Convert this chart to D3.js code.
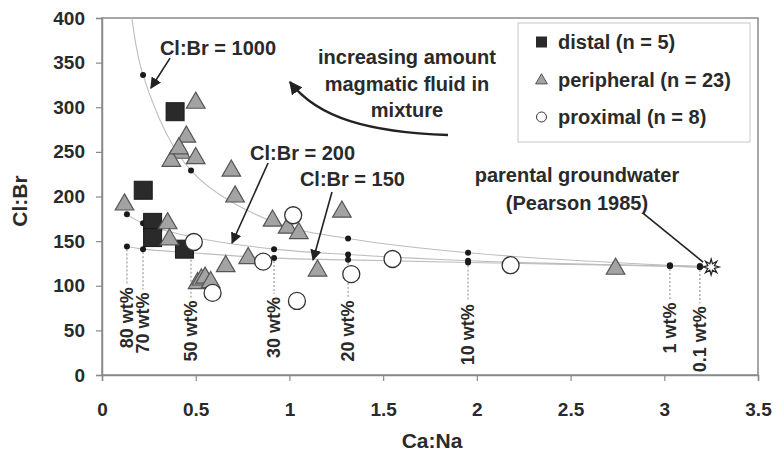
<!DOCTYPE html>
<html>
<head>
<meta charset="utf-8">
<script src="https://cdn.jsdelivr.net/npm/d3@7"></script>
<style>
  body { margin: 0; background: #fff; }
  svg text { font-family: "Liberation Sans", Arial, sans-serif; font-weight: bold; fill: #2a2a2a; }
</style>
</head>
<body>
<script>
// axis ticks
const xTicks = [0, 0.5, 1, 1.5, 2, 2.5, 3, 3.5];
const yTicks = [0, 50, 100, 150, 200, 250, 300, 350, 400];

// samples [Ca:Na, Cl:Br]
const distal = [[0.39, 295], [0.22, 207], [0.27, 171], [0.27, 154], [0.44, 141]];
const peripheral = [
  [0.50, 306], [0.45, 268], [0.42, 250], [0.37, 241], [0.50, 244], [0.41, 255],
  [0.69, 230], [0.71, 201], [0.12, 192], [0.35, 171], [0.36, 153], [0.66, 123],
  [0.78, 132], [0.51, 104], [0.53, 108], [0.55, 110], [0.58, 105], [0.91, 174],
  [0.99, 166], [1.05, 160], [1.15, 118], [1.28, 184], [2.74, 120]
];
const proximal = [[0.49, 149], [0.59, 92], [0.86, 127], [1.02, 179], [1.04, 83], [1.33, 113], [1.55, 130], [2.18, 123]];

// mixing curves, values at each wt% of magmatic fluid
const wtLabels = ['80 wt%', '70 wt%', '50 wt%', '30 wt%', '20 wt%', '10 wt%', '1 wt%', '0.1 wt%'];
const wtCaNa = [0.133, 0.219, 0.475, 0.918, 1.313, 1.953, 3.03, 3.19];
const curve1000 = [450, 336, 229, 171, 153, 137, 123, 122];
const curve200 = [180, 170, 155, 141, 135, 128, 122, 121];
const curve150 = [144, 141, 137, 131, 129, 126, 122, 121];
const wtLabelBase = [30, 24, 15, 19, 15, 11, 24, 3];

const groundwater = [3.25, 121];

const w = 773, h = 458;
const svg = d3.select('body').append('svg').attr('width', w).attr('height', h);

const x = d3.scaleLinear().domain([0, 3.5]).range([102, 758]);
const y = d3.scaleLinear().domain([0, 400]).range([375, 18]);

const defs = svg.append('defs');
defs.append('clipPath').attr('id', 'plot')
    .append('rect').attr('x', 102).attr('y', 18).attr('width', 656).attr('height', 357);
defs.append('marker').attr('id', 'head').attr('viewBox', '0 0 10 10')
    .attr('refX', 9).attr('refY', 5).attr('markerWidth', 7).attr('markerHeight', 7)
    .attr('markerUnits', 'strokeWidth').attr('orient', 'auto')
    .append('path').attr('d', 'M0,0 L10,5 L0,10 Z').attr('fill', '#222');
defs.append('marker').attr('id', 'headBig').attr('viewBox', '0 0 10 10')
    .attr('refX', 9).attr('refY', 5).attr('markerWidth', 5.5).attr('markerHeight', 5.5)
    .attr('markerUnits', 'strokeWidth').attr('orient', 'auto')
    .append('path').attr('d', 'M0,0 L10,5 L0,10 Z').attr('fill', '#222');

// frame
svg.append('rect').attr('x', 102).attr('y', 18).attr('width', 656).attr('height', 357)
   .attr('fill', 'none').attr('stroke', '#8a8a8a').attr('stroke-width', 1.5);

const xAxis = svg.append('g').attr('transform', 'translate(0,375)')
   .call(d3.axisBottom(x).tickValues(xTicks).tickFormat(d => String(d)).tickSize(6).tickPadding(22));
const yAxis = svg.append('g').attr('transform', 'translate(102,0)')
   .call(d3.axisLeft(y).tickValues(yTicks).tickSize(6).tickPadding(11));
[xAxis, yAxis].forEach(g => {
  g.select('.domain').attr('stroke', '#8a8a8a').attr('stroke-width', 1.5);
  g.selectAll('.tick line').attr('stroke', '#8a8a8a').attr('stroke-width', 1.2);
  g.selectAll('.tick text').style('font-size', '19px').attr('fill', '#2a2a2a');
});

svg.append('text').attr('x', 432).attr('y', 448).attr('text-anchor', 'middle')
   .style('font-size', '21px').text('Ca:Na');
svg.append('text').attr('transform', 'translate(27,201) rotate(-90)').attr('text-anchor', 'middle')
   .style('font-size', '21px').text('Cl:Br');

const plot = svg.append('g').attr('clip-path', 'url(#plot)');

// mixing curves
const line = d3.line().x(d => x(d[0])).y(d => y(d[1])).curve(d3.curveCatmullRom.alpha(0.5));
[curve1000, curve200, curve150].forEach(c => {
  const pts = c.map((v, i) => [wtCaNa[i], v]);
  pts.push(groundwater);
  plot.append('path').attr('d', line(pts)).attr('fill', 'none')
      .attr('stroke', '#bdbdbd').attr('stroke-width', 1.1);
});

// dashed drop lines + wt% labels
const labels = svg.append('g');
wtLabels.forEach((lab, i) => {
  const t = labels.append('text')
    .attr('transform', 'translate(' + x(wtCaNa[i]) + ',' + y(wtLabelBase[i]) + ') rotate(-90)')
    .attr('dy', '0.35em').style('font-size', '18px').text(lab);
  const len = t.node().getComputedTextLength();
  const low = Math.min(curve1000[i], curve200[i], curve150[i]);
  plot.append('line').attr('x1', x(wtCaNa[i])).attr('x2', x(wtCaNa[i]))
      .attr('y1', y(low) + 3).attr('y2', y(wtLabelBase[i]) - len - 3)
      .attr('stroke', '#888').attr('stroke-width', 1).attr('stroke-dasharray', '2,2');
});

// curve dots
[curve1000, curve200, curve150].forEach(c => {
  plot.selectAll(null).data(c.map((v, i) => [wtCaNa[i], v])).enter().append('circle')
      .attr('cx', d => x(d[0])).attr('cy', d => y(d[1])).attr('r', 3).attr('fill', '#1a1a1a');
});

// samples
const tri = d3.symbol().type(d3.symbolTriangle).size(150);
plot.selectAll('.sq').data(distal).enter().append('rect')
    .attr('x', d => x(d[0]) - 9).attr('y', d => y(d[1]) - 9).attr('width', 18).attr('height', 18)
    .attr('fill', '#2a2a2a').attr('stroke', '#1a1a1a').attr('stroke-width', 1);
plot.selectAll('.tr').data(peripheral).enter().append('path')
    .attr('d', tri).attr('transform', d => 'translate(' + x(d[0]) + ',' + (y(d[1]) + 1) + ')')
    .attr('fill', '#a3a3a3').attr('stroke', '#555').attr('stroke-width', 1.2);
plot.selectAll('.ci').data(proximal).enter().append('circle')
    .attr('cx', d => x(d[0])).attr('cy', d => y(d[1])).attr('r', 8.5)
    .attr('fill', '#fff').attr('stroke', '#333').attr('stroke-width', 1.3);

// groundwater star
const starPts = d3.range(16).map(i => [i * Math.PI / 8, i % 2 ? 3.5 : 8]);
svg.append('path').attr('d', d3.lineRadial().curve(d3.curveLinearClosed)(starPts))
   .attr('transform', 'translate(' + x(groundwater[0]) + ',' + y(groundwater[1]) + ')')
   .attr('fill', '#fff').attr('stroke', '#222').attr('stroke-width', 1.2);

// annotations (data coordinates)
const ann = svg.append('g');
const arrow = (a, b, head) => ann.append('line')
  .attr('x1', x(a[0])).attr('y1', y(a[1])).attr('x2', x(b[0])).attr('y2', y(b[1]))
  .attr('stroke', '#222').attr('stroke-width', 1.6).attr('marker-end', head ? 'url(#head)' : null);

ann.append('text').attr('x', x(0.309)).attr('y', y(358.5)).style('font-size', '20px').text('Cl:Br = 1000');
arrow([0.363, 355], [0.261, 321.6], true);
ann.append('text').attr('x', x(0.79)).attr('y', y(240.9)).style('font-size', '20px').text('Cl:Br = 200');
arrow([0.886, 237.5], [0.694, 147.9], true);
ann.append('text').attr('x', x(1.056)).attr('y', y(211.8)).style('font-size', '20px').text('Cl:Br = 150');
arrow([1.227, 205], [1.126, 128.9], true);

const incr = ['increasing amount', 'magmatic fluid in', 'mixture'];
const incrY = [348.5, 318.2, 289.1];
incr.forEach((s, i) => ann.append('text').attr('x', x(1.627)).attr('y', y(incrY[i]))
  .attr('text-anchor', 'middle').style('font-size', '20px').text(s));
ann.append('path')
   .attr('d', 'M' + x(1.846) + ',' + y(268.9) +
              ' C' + x(1.43) + ',' + y(272) + ' ' + x(1.152) + ',' + y(287.5) + ' ' + x(1.003) + ',' + y(328.3))
   .attr('fill', 'none').attr('stroke', '#222').attr('stroke-width', 2.4).attr('marker-end', 'url(#headBig)');

ann.append('text').attr('x', x(2.534)).attr('y', y(216.2)).attr('text-anchor', 'middle')
   .style('font-size', '20px').text('parental groundwater');
ann.append('text').attr('x', x(2.534)).attr('y', y(184.9)).attr('text-anchor', 'middle')
   .style('font-size', '20px').text('(Pearson 1985)');
arrow([2.886, 181.5], [3.207, 126.6], false);

// legend
const lg = svg.append('g').attr('transform', 'translate(518,23)');
lg.append('rect').attr('width', 232).attr('height', 119).attr('fill', '#fff')
  .attr('stroke', '#c8c8c8').attr('stroke-width', 1);
const legendItems = ['distal (n = 5)', 'peripheral (n = 23)', 'proximal (n = 8)'];
legendItems.forEach((s, i) => {
  const cy = 19 + i * 37.5;
  if (i === 0) lg.append('rect').attr('x', 18).attr('y', cy - 5.5).attr('width', 11).attr('height', 11).attr('fill', '#2a2a2a');
  if (i === 1) lg.append('path').attr('d', d3.symbol().type(d3.symbolTriangle).size(60)())
                 .attr('transform', 'translate(23.5,' + (cy + 1) + ')').attr('fill', '#a3a3a3').attr('stroke', '#555');
  if (i === 2) lg.append('circle').attr('cx', 23.5).attr('cy', cy).attr('r', 5).attr('fill', '#fff').attr('stroke', '#333');
  lg.append('text').attr('x', 40).attr('y', cy + 7).style('font-size', '20px').text(s);
});
</script>
</body>
</html>
